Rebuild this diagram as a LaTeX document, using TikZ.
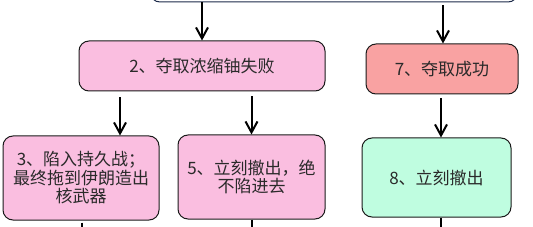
\documentclass[tikz,border=0pt]{standalone}
\usepackage{fontspec}
\usepackage{tikz}
\usetikzlibrary{arrows.meta,calc,positioning}
\newfontfamily\cjk{Noto Sans CJK SC}
\definecolor{Edge}{HTML}{1A1A1A}
\definecolor{Ink}{HTML}{2A2A2A}
\definecolor{Navy}{HTML}{1C2A4A}
\definecolor{Pink}{HTML}{FABEE0}
\definecolor{Salmon}{HTML}{F9A2A2}
\definecolor{Mint}{HTML}{BFFDE0}
\tikzset{step box/.style={rounded corners=10pt,draw=Edge,line width=1pt,align=center,inner sep=2pt,text=Ink,font=\cjk\fontsize{17}{18.5}\selectfont},fail/.style={step box,fill=Pink},win/.style={step box,fill=Salmon},quit/.style={step box,fill=Mint},flow/.style={-{Straight Barb[length=11pt,width=12pt]},line width=2pt,draw=black},line/.style={line width=2pt,draw=black}}

\begin{document}
\begin{tikzpicture}[x=1pt,y=-1pt]
      \useasboundingbox (0,0) rectangle (533,227);
      \node[rounded corners=10pt,draw=Navy,line width=1pt,fill=white,minimum width=368pt,minimum height=44pt](top) at (334,-20){};
      \node[fail,minimum width=246pt,minimum height=50pt](fail) at (202,66){2、夺取浓缩铀失败};
      \node[win,minimum width=152pt,minimum height=50pt](win) at (442,69){7、夺取成功};
      \node[fail,minimum width=156pt,minimum height=84pt](stuck) at (81,178){3、陷入持久战；\\最终拖到伊朗造出\\核武器};
      \node[fail,minimum width=147pt,minimum height=84pt](leave) at (251.5,177){5、立刻撤出，绝\\不陷进去};
      \node[quit,minimum width=149pt,minimum height=79pt](quit) at (436.5,177.5){8、立刻撤出};
      \coordinate (out3) at (82,240);\coordinate (out5) at (252,240);\coordinate (out8) at (441,240);
      \draw[flow](top.south -| fail.north)--(fail.north);
      \draw[flow,shorten <=3pt](top.south -| 443,0)--(win.north -| 443,0);
      \draw[flow,shorten <=6pt](fail.south -| 120,0)--(stuck.north -| 120,0);
      \draw[flow,shorten <=5pt](fail.south -| leave.north)--(leave.north);
      \draw[flow,shorten <=4pt](win.south -| 441,0)--(quit.north -| 441,0);
      \draw[line,shorten <=2pt](stuck.south -| out3)--(out3);\draw[line](leave.south -| out5)--(out5);\draw[line](quit.south -| out8)--(out8);
    \end{tikzpicture}
\end{document}
